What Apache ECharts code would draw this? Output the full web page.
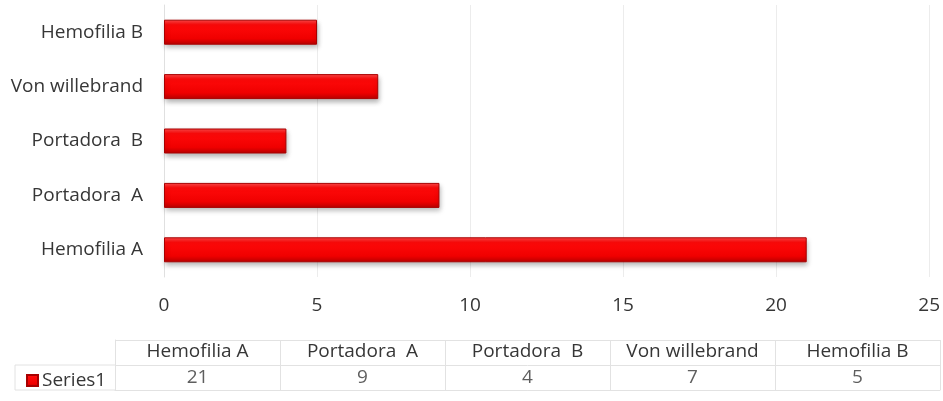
<!DOCTYPE html>
<html>
<head>
<meta charset="utf-8">
<script src="https://cdn.jsdelivr.net/npm/echarts@6/dist/echarts.min.js"></script>
<style>
  html, body { margin: 0; padding: 0; background: #fff; }
  #chart { width: 943px; height: 401px; }
</style>
</head>
<body>
<div id="chart"></div>
<script>
  // datos
  var categories = ['Hemofilia A', 'Portadora  A', 'Portadora  B', 'Von willebrand', 'Hemofilia B']
  var seriesName = 'Series1'
  var values = [21, 9, 4, 7, 5]
  var xTicks = [0, 5, 10, 15, 20, 25]

  var font = '"Open Sans", "Noto Sans", sans-serif'
  var textColor = '#363636'
  var borderColor = '#e2e2e2'
  var fontSize = 19

  // tabla de datos debajo del grafico
  var tableLeft = 115
  var tableTop = 340
  var rowH = 25

  var myChart = echarts.init(document.getElementById('chart'))

  var tableData = categories.map(function (c, i) {
    return [c, 0.5, values[i]]
  })

  var option = {
    animation: false,
    textStyle: { fontFamily: font },
    legend: {
      data: [{ name: seriesName, icon: 'rect' }],
      left: 21,
      top: tableTop + rowH + 1,
      itemWidth: 11,
      itemHeight: 11,
      itemGap: 4,
      selectedMode: false,
      textStyle: { color: textColor, fontSize: fontSize, fontFamily: font, padding: [0, 0, 0, -1] }
    },
    grid: [
      { left: 164, right: 8, top: 5, height: 272 },
      { left: tableLeft, right: 3, top: tableTop, height: rowH * 2 }
    ],
    xAxis: [
      {
        type: 'value',
        min: xTicks[0],
        max: xTicks[xTicks.length - 1],
        interval: 5,
        axisLine: { show: false },
        axisTick: { show: false },
        axisLabel: { color: textColor, fontSize: fontSize, margin: 19 },
        splitLine: { show: true, lineStyle: { color: '#ececec' } }
      },
      {
        type: 'category',
        gridIndex: 1,
        position: 'top',
        data: categories,
        axisLine: { show: true, lineStyle: { color: borderColor } },
        axisTick: { show: false },
        axisLabel: { inside: true, margin: 2, color: textColor, fontSize: fontSize, interval: 0 },
        splitLine: { show: true, interval: 0, lineStyle: { color: borderColor } }
      }
    ],
    yAxis: [
      {
        type: 'category',
        data: categories,
        axisLine: { show: true, lineStyle: { color: '#e0e0e0' } },
        axisTick: { show: false },
        axisLabel: { color: textColor, fontSize: fontSize, margin: 21 }
      },
      {
        type: 'value',
        gridIndex: 1,
        min: 0,
        max: 2,
        interval: 1,
        axisLine: { show: true, lineStyle: { color: borderColor } },
        axisTick: { show: false },
        axisLabel: { show: false },
        splitLine: { show: true, lineStyle: { color: borderColor } }
      }
    ],
    graphic: [
      {
        type: 'polyline',
        silent: true,
        shape: { points: [[tableLeft, tableTop + rowH], [15, tableTop + rowH], [15, tableTop + rowH * 2], [tableLeft, tableTop + rowH * 2]] },
        style: { stroke: borderColor, fill: null, lineWidth: 1 }
      }
    ],
    series: [
      {
        name: seriesName,
        type: 'bar',
        barWidth: 25,
        data: values,
        itemStyle: {
          color: new echarts.graphic.LinearGradient(0, 0, 0, 1, [
            { offset: 0, color: '#ff4a4a' },
            { offset: 0.2, color: '#ff0a0a' },
            { offset: 0.75, color: '#f00000' },
            { offset: 1, color: '#b80000' }
          ]),
          borderColor: '#a80000',
          borderWidth: 1,
          shadowBlur: 5,
          shadowOffsetY: 3,
          shadowOffsetX: 1,
          shadowColor: 'rgba(0,0,0,0.3)'
        }
      },
      {
        name: 'tabla',
        type: 'scatter',
        xAxisIndex: 1,
        yAxisIndex: 1,
        symbolSize: 0,
        data: tableData,
        label: {
          show: true,
          position: 'inside',
          color: textColor,
          fontSize: fontSize,
          formatter: function (p) { return p.value[2] }
        }
      }
    ]
  }

  myChart.setOption(option)
</script>
</body>
</html>
